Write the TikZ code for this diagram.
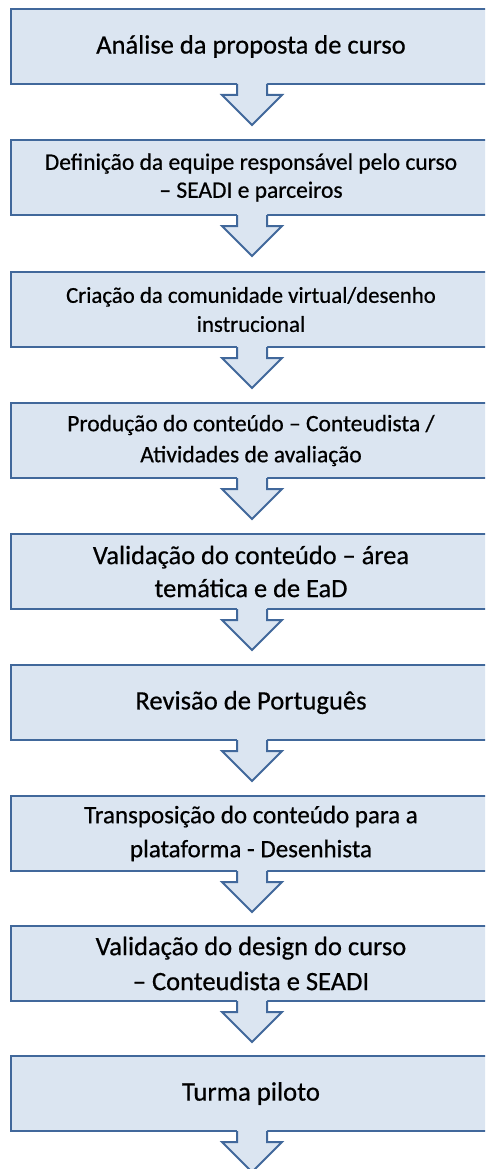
\documentclass[tikz,border=0pt]{standalone}
\usepackage{fontspec}
\setmainfont{Carlito}[FakeBold=0.6]
\usetikzlibrary{calc}
\definecolor{boxfill}{HTML}{DBE5F1}
\definecolor{boxline}{HTML}{41689B}
\tikzset{
  stepbox/.style={draw=boxline, fill=boxfill, line width=2pt, rectangle,
    minimum width=480pt, minimum height=75pt, inner sep=0pt, outer sep=0pt,
    align=center, text=black, anchor=north},
  arrowline/.style={draw=boxline, line width=2pt, line join=miter},
}
\begin{document}
\begin{tikzpicture}[x=1pt,y=1pt]
\useasboundingbox (0,0) rectangle (485,-1169);
\clip (0,0) rectangle (485,-1169);
\fill[white] (0,0) rectangle (485,-1169);
\node[stepbox, font=\fontsize{26.5}{32}\selectfont] (b1) at (251,-9)
  {Análise da proposta de curso};
\node[stepbox, font=\fontsize{23.5}{28}\selectfont] (b2) at (251,-140)
  {Definição da equipe responsável pelo curso\\– SEADI e parceiros};
\node[stepbox, font=\fontsize{22.8}{29}\selectfont] (b3) at (251,-272)
  {Criação da comunidade virtual/desenho\\instrucional};
\node[stepbox, font=\fontsize{23.5}{31}\selectfont] (b4) at (251,-403)
  {Produção do conteúdo – Conteudista /\\Atividades de avaliação};
\node[stepbox, font=\fontsize{26.4}{33}\selectfont] (b5) at (251,-534)
  {Validação do conteúdo – área\\temática e de EaD};
\node[stepbox, font=\fontsize{26.6}{30}\selectfont] (b6) at (251,-665)
  {Revisão de Português};
\node[stepbox, font=\fontsize{25}{34}\selectfont] (b7) at (251,-796)
  {Transposição do conteúdo para a\\plataforma - Desenhista};
\node[stepbox, font=\fontsize{26.5}{35}\selectfont] (b8) at (251,-926)
  {Validação do design do curso\\– Conteudista e SEADI};
\node[stepbox, font=\fontsize{26.7}{30}\selectfont] (b9) at (251,-1056)
  {Turma piloto};
\foreach \i in {1,...,9}{
  \coordinate (s\i) at ($(b\i.south)+(1,0)$);
  \fill[boxfill] ($(s\i)+(-15,2)$) -- ($(s\i)+(-15,-11)$) -- ($(s\i)+(-30,-11)$)
    -- ($(s\i)+(0,-41)$) -- ($(s\i)+(30,-11)$) -- ($(s\i)+(15,-11)$)
    -- ($(s\i)+(15,2)$) -- cycle;
  \draw[arrowline] ($(s\i)+(-15,0)$) -- ($(s\i)+(-15,-11)$) -- ($(s\i)+(-30,-11)$)
    -- ($(s\i)+(0,-41)$) -- ($(s\i)+(30,-11)$) -- ($(s\i)+(15,-11)$)
    -- ($(s\i)+(15,0)$);
}
\end{tikzpicture}
\end{document}
